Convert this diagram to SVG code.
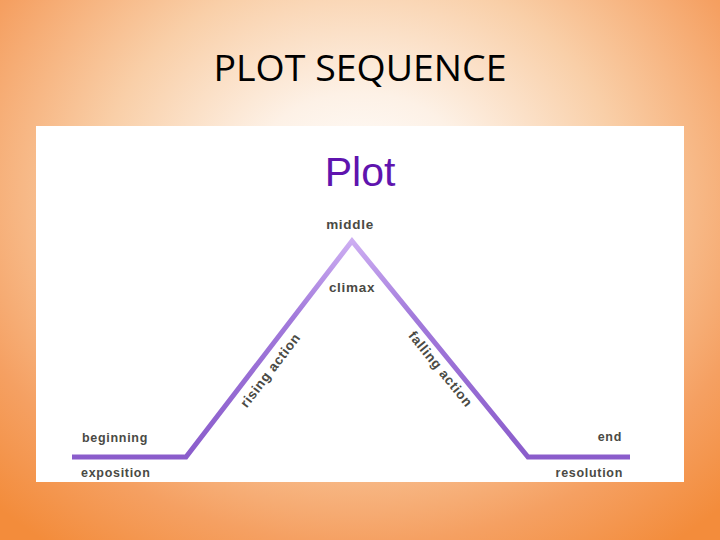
<svg xmlns="http://www.w3.org/2000/svg" width="720" height="540" viewBox="0 0 720 540">
<defs>
<radialGradient id="bg" cx="360" cy="190" r="520" gradientUnits="userSpaceOnUse" gradientTransform="translate(360 190) scale(1 0.85) translate(-360 -190)">
<stop offset="0" stop-color="#FFFFFF"/>
<stop offset="0.22" stop-color="#FDF1E6"/>
<stop offset="0.5" stop-color="#F9CFA8"/>
<stop offset="0.8" stop-color="#F5A062"/>
<stop offset="1" stop-color="#F38C3B"/>
</radialGradient>
<linearGradient id="ln" x1="0" y1="240" x2="0" y2="460" gradientUnits="userSpaceOnUse">
<stop offset="0" stop-color="#CDAEF2"/>
<stop offset="0.35" stop-color="#A27ADB"/>
<stop offset="1" stop-color="#8A5CCB"/>
</linearGradient>
<style>
.lbl{font-family:"Liberation Sans",Arial,sans-serif;font-weight:bold;fill:#4a4a44;letter-spacing:0.7px}
.s{font-size:12.5px}
.m{font-size:13.5px}
</style>
</defs>
<rect width="720" height="540" fill="url(#bg)"/>
<text x="360" y="81" text-anchor="middle" font-family="'Open Sans','Liberation Sans',sans-serif" font-size="37" textLength="293" lengthAdjust="spacingAndGlyphs" fill="#000">PLOT SEQUENCE</text>
<rect x="36" y="126" width="648" height="356" fill="#FFFFFF"/>
<g id="title">
<text x="360" y="186" text-anchor="middle" font-family="'Liberation Sans',Arial,sans-serif" font-size="41" fill="#5F14AE">Plot</text>
</g>
<g id="connectors">
<polyline points="72,457 186,457 352,241 528,457 630,457" fill="none" stroke="url(#ln)" stroke-width="5" stroke-linejoin="miter"/>
</g>
<g id="middle"><text class="lbl m" x="350" y="229" text-anchor="middle">middle</text></g>
<g id="climax"><text class="lbl m" x="352" y="292" text-anchor="middle">climax</text></g>
<g id="rising"><text class="lbl m" text-anchor="middle" transform="translate(274 373) rotate(-52.5)">rising action</text></g>
<g id="falling"><text class="lbl m" text-anchor="middle" transform="translate(437 372) rotate(51)">falling action</text></g>
<g id="beginning"><text class="lbl s" x="82" y="442">beginning</text></g>
<g id="exposition"><text class="lbl s" x="81" y="477">exposition</text></g>
<g id="end"><text class="lbl s" x="622" y="441" text-anchor="end">end</text></g>
<g id="resolution"><text class="lbl s" x="623" y="477" text-anchor="end">resolution</text></g>
</svg>
